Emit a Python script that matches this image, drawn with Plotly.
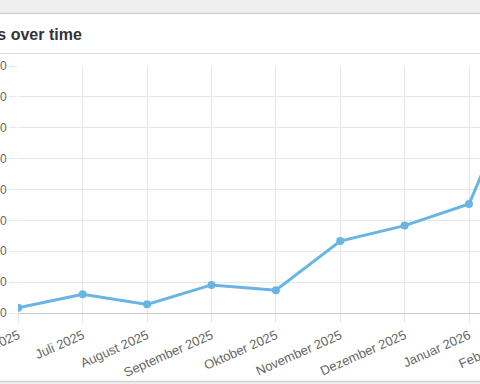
import plotly.graph_objects as go

months = ["Juni 2025", "Juli 2025", "August 2025", "September 2025", "Oktober 2025",
          "November 2025", "Dezember 2025", "Januar 2026", "Februar 2026"]
counts = [17, 61, 28, 91, 74, 233, 283, 353, 840]
y_ticks = [0, 100, 200, 300, 400, 500, 600, 700, 800]

W, H = 480, 384
L, R, T, B = 18, 0, 66, 71
pw, ph = W - L - R, H - T - B
STEP = 64.43          # pixel spacing between month categories
ANGLE = -24
FONT = "Liberation Sans, Arial, sans-serif"

def px(x):
    return (x - L) / pw

def py(y):
    return (H - B - y) / ph

fig = go.Figure()
fig.add_trace(go.Scatter(
    x=months, y=counts, mode="lines+markers",
    line=dict(color="#68b4e2", width=3),
    marker=dict(color="#68b4e2", size=8),
    hoverinfo="skip",
))

shapes = [
    dict(type="rect", xref="paper", yref="paper", x0=px(-5), x1=px(W + 5), y0=py(13.5), y1=py(-5),
         fillcolor="#efefef", line=dict(width=0), layer="below"),
    dict(type="line", xref="paper", yref="paper", x0=px(-5), x1=px(W + 5), y0=py(13.5), y1=py(13.5),
         line=dict(color="#d4d4d4", width=1.5)),
    dict(type="line", xref="paper", yref="paper", x0=px(-5), x1=px(W + 5), y0=py(53.5), y1=py(53.5),
         line=dict(color="#dcdcdc", width=1)),
    dict(type="rect", xref="paper", yref="paper", x0=px(-5), x1=px(W + 5), y0=py(H + 5), y1=py(381.5),
         fillcolor="#efefef", line=dict(width=0), layer="below"),
    dict(type="line", xref="paper", yref="paper", x0=px(-5), x1=px(W + 5), y0=py(381.5), y1=py(381.5),
         line=dict(color="#d4d4d4", width=1.5)),
]

# tick position (in pixels) of the last month, which lies beyond the visible plot edge
last_tick_px = L + (len(months) - 1) * STEP

fig.update_layout(
    width=W, height=H,
    margin=dict(l=L, r=R, t=T, b=B, pad=0, autoexpand=False),
    paper_bgcolor="white", plot_bgcolor="white",
    showlegend=False,
    font=dict(family=FONT, size=13, color="#666666"),
    shapes=shapes,
    annotations=[
        dict(text="<b>Registrations over time</b>", xref="paper", yref="paper",
             x=px(84), y=py(34), xanchor="right", yanchor="middle", showarrow=False,
             font=dict(family=FONT, size=16, color="#333333")),
        dict(text=months[-1], xref="paper", yref="paper",
             x=px(last_tick_px + 3), y=py(323), xanchor="right", yanchor="top",
             showarrow=False, textangle=ANGLE,
             font=dict(family=FONT, size=13, color="#666666")),
    ],
    xaxis=dict(
        type="category", range=[-0.005, (W - L) / STEP],
        showgrid=True, gridcolor="#e6e6e6", gridwidth=1,
        ticks="outside", ticklen=9, tickcolor="#e6e6e6",
        tickangle=ANGLE, showline=False, zeroline=False, fixedrange=True,
        automargin=False,
    ),
    yaxis=dict(
        range=[0, 800], tickvals=y_ticks,
        showgrid=True, gridcolor="#e6e6e6", gridwidth=1,
        ticks="outside", ticklen=8, tickcolor="#e6e6e6",
        tickfont=dict(size=12),
        zeroline=True, zerolinecolor="#cccccc", zerolinewidth=1,
        showline=False, fixedrange=True, automargin=False,
    ),
)

fig.write_html(
    "out.html",
    config={"displayModeBar": False},
    post_script="document.body.style.margin='0';document.body.style.overflow='hidden';",
)
